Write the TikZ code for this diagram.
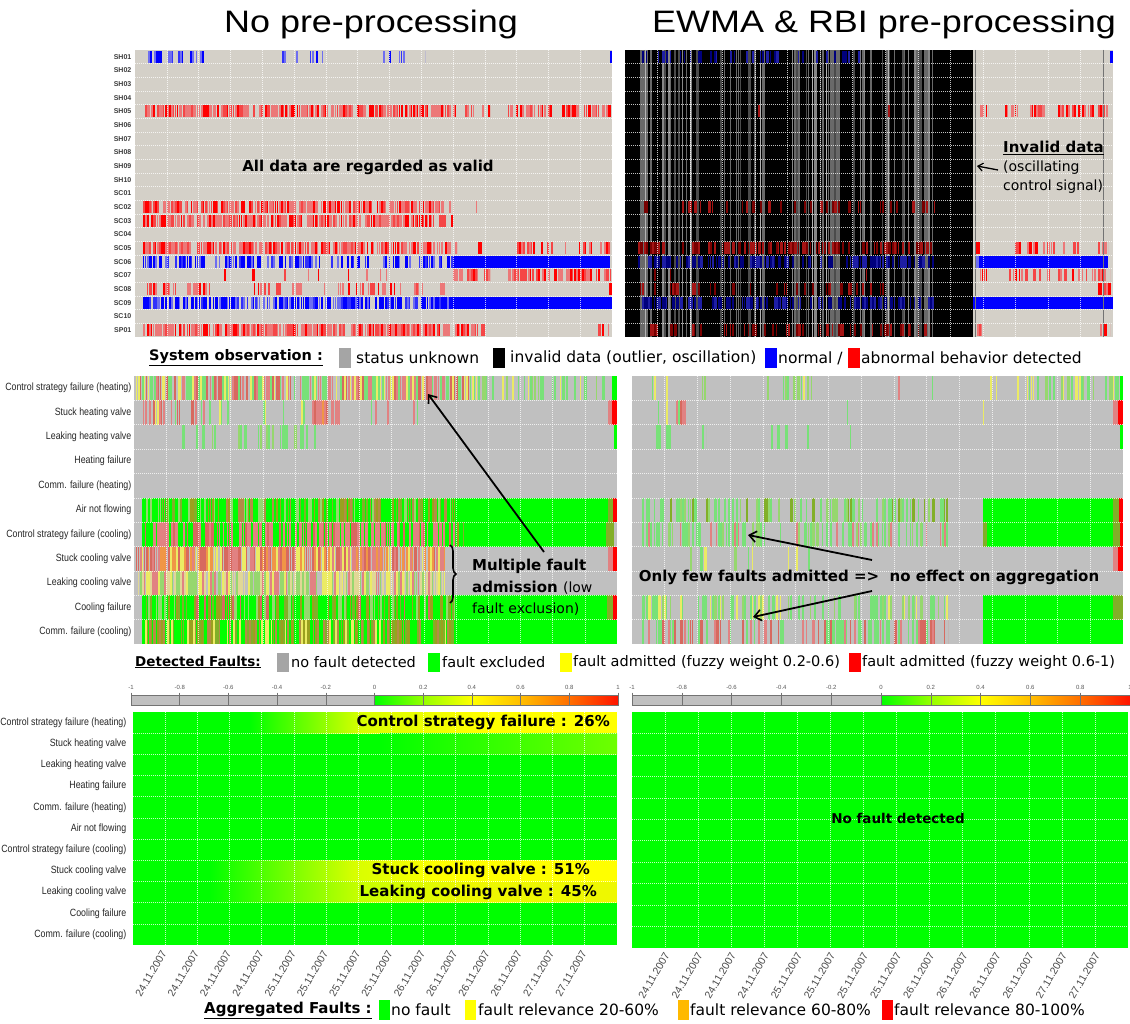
\documentclass[tikz,border=0pt]{standalone}
\usepackage{fontspec}
\setmainfont{Liberation Sans}
\newfontfamily\dv{DejaVu Sans}
\newfontfamily\narrowf[FakeStretch=0.84]{Liberation Sans}
\usetikzlibrary{arrows.meta,decorations.pathreplacing}
\definecolor{beige}{RGB}{212,208,200}
\definecolor{midgray}{RGB}{192,192,192}
\definecolor{rS}{RGB}{255,0,0}
\definecolor{rL}{RGB}{236,120,120}
\definecolor{rM}{RGB}{245,70,70}
\definecolor{bS}{RGB}{0,0,255}
\definecolor{bL}{RGB}{110,110,240}
\definecolor{bM}{RGB}{50,50,250}
\definecolor{dR}{RGB}{120,0,0}
\definecolor{dR2}{RGB}{165,20,20}
\definecolor{dB}{RGB}{0,0,125}
\definecolor{dB2}{RGB}{30,30,165}
\definecolor{gA}{RGB}{105,105,105}
\definecolor{gB}{RGB}{135,135,135}
\definecolor{gC}{RGB}{75,75,75}
\definecolor{gG}{RGB}{0,255,0}
\definecolor{lg}{RGB}{120,225,120}
\definecolor{lgb}{RGB}{150,215,110}
\definecolor{ol}{RGB}{130,175,40}
\definecolor{olb}{RGB}{155,160,30}
\definecolor{br}{RGB}{180,140,70}
\definecolor{pk}{RGB}{225,130,130}
\definecolor{pkb}{RGB}{215,105,95}
\definecolor{yl}{RGB}{235,235,100}
\definecolor{ylb}{RGB}{225,215,150}
\definecolor{orr}{RGB}{240,150,70}
\definecolor{aggyel}{RGB}{255,255,0}
\definecolor{aggor}{RGB}{255,185,0}
\definecolor{ygA}{RGB}{215,255,0}
\definecolor{ygB}{RGB}{200,255,0}
\definecolor{ygC}{RGB}{110,255,0}
\definecolor{ygD}{RGB}{238,248,0}
\definecolor{cbgray}{RGB}{192,192,192}
\definecolor{cbA}{RGB}{150,255,0}
\definecolor{cbB}{RGB}{255,190,0}
\definecolor{cbC}{RGB}{255,110,0}
\definecolor{cbD}{RGB}{255,20,0}
\definecolor{lsqgray}{RGB}{165,165,165}
\definecolor{labgray}{RGB}{60,60,60}
\newcommand\fsz[1]{\fontsize{#1}{#1}\selectfont}
\newcommand\stripes[6]{%
  \pgfmathsetmacro\stY{#3}%
  \pgfmathsetmacro\stH{#4}%
  \pgfmathtruncatemacro\stN{floor((#2-#1)/2)}%
  \foreach \k in {0,...,\stN}{%
    \pgfmathsetmacro\stR{rnd}%
    \ifdim\stR pt<#5pt\relax
      \pgfmathsetmacro\stX{#1+2*\k}%
      \pgfmathtruncatemacro\stC{floor(3.99*rnd)}%
      \pgfmathsetmacro\stCol{{#6}[\stC]}%
      \pgfmathsetmacro\stW{min(1+1.8*rnd,#2-\stX)}%
      \fill[\stCol] (\stX,\stY) rectangle ++(\stW,\stH);%
    \fi
  }%
}
\newcommand\blk[5]{\fill[#5] (#1,#3) rectangle (#2,#3+#4);}
\newcommand\TL[5]{\stripes{#1}{#2}{50+13.667*#3+0.8}{12}{#4}{#5}}
\newcommand\TB[4]{\blk{#1}{#2}{50+13.667*#3+0.8}{12}{#4}}
\newcommand\ML[5]{\stripes{#1}{#2}{376+24.36*#3}{24.36}{#4}{#5}}
\newcommand\MB[4]{\blk{#1}{#2}{376+24.36*#3}{24.36}{#4}}
\newcommand\grid[5]{%
  \pgfmathsetmacro\gdx{(#2-#1)/15}%
  \pgfmathsetmacro\gdy{(#4-#3)/(#5+1)}%
  \foreach \k in {1,...,14}{\draw[gridl] ({#1+\k*\gdx},#3) -- ({#1+\k*\gdx},#4);}%
  \foreach \k in {1,...,#5}{\draw[gridl] (#1,{#3+\k*\gdy}) -- (#2,{#3+\k*\gdy});}%
}
\newcommand\cbar[3]{%
  \pgfmathsetmacro\cbd{(#2-#1)/10}%
  \fill[cbgray] (#1,695) rectangle ({#1+5*\cbd},705);
  \shade[left color=gG, right color=cbA] ({#1+5*\cbd},695) rectangle ({#1+6*\cbd},705);
  \shade[left color=cbA, right color=aggyel] ({#1+6*\cbd},695) rectangle ({#1+7*\cbd},705);
  \shade[left color=aggyel, right color=cbB] ({#1+7*\cbd},695) rectangle ({#1+8*\cbd},705);
  \shade[left color=cbB, right color=cbC] ({#1+8*\cbd},695) rectangle ({#1+9*\cbd},705);
  \shade[left color=cbC, right color=cbD] ({#1+9*\cbd},695) rectangle (#2,705);
  \foreach \k in {1,...,9}{\draw[cbline] ({#1+\k*\cbd},695) -- ({#1+\k*\cbd},705);}
  \draw[cbline] (#1,695) rectangle (#2,705);
  \foreach \k/\t in {0/-1,1/-0.8,2/-0.6,3/-0.4,4/-0.2,5/0,6/0.2,7/0.4,8/0.6,9/0.8,10/1}{%
    \draw[cbline] ({#1+\k*\cbd},692.5) -- ({#1+\k*\cbd},695);
    \node[ticklab] (#3\k) at ({#1+\k*\cbd},687.5) {\t};}
}
\begin{document}
\begin{tikzpicture}[x=1pt,y=-1pt,
  gridl/.style={draw=white, line width=0.6pt, dash pattern=on 1pt off 1pt, opacity=0.75},
  cbline/.style={draw=black!55, line width=0.5pt},
  ticklab/.style={font=\fsz{6}, text=black!65, inner sep=0pt},
  toplab/.style={font=\fsz{7}\bfseries, text=labgray, anchor=east, inner sep=0.5pt},
  rowlab/.style={font=\narrowf\fsz{10.5}, text=black!85, anchor=east, inner sep=0.5pt},
  datel/.style={font=\fsz{10.5}, text=black!70, rotate=60, anchor=east, inner sep=0pt},
  leg/.style={font=\dv\fsz{15.5}, anchor=west, inner sep=1pt},
  legb/.style={font=\dv\bfseries\fsz{15}, anchor=west, inner sep=1pt},
  ann/.style={font=\dv\bfseries\fsz{15}, inner sep=1pt},
  lsq/.style={rectangle, draw=none, inner sep=0pt, minimum width=12pt, minimum height=19pt},
  arr/.style={-{Straight Barb[length=7pt,width=11pt,line width=1.6pt]}, line width=1.8pt, black},
  title/.style={font=\fsz{31}, inner sep=0pt}]
\pgfmathsetseed{4242}
\useasboundingbox (0,0) rectangle (1130,1024);
\fill[white] (0,0) rectangle (1130,1024);

% ---------------- titles
\node[title] (t1) at (371,24) {\scalebox{1.16}[1]{No pre-processing}};
\node[title] (t2) at (884,24) {\scalebox{1.16}[1]{EWMA \& RBI pre-processing}};

% ---------------- top-left panel
\fill[beige] (135,50) rectangle (612,337);
\def\red{"rS","rL","rL","rM"}
\def\redl{"rL","rL","rS","rM"}
\def\blu{"bS","bL","bM","bS"}
\TL{148}{208}{0}{0.45}{"bL","bS","bL","bM"}
\TL{272}{342}{0}{0.3}{"bL","bS","bL","bM"}
\TL{377}{425}{0}{0.2}{"bL","bS","bL","bM"}
\TB{610}{612}{0}{bS}
\TL{143}{476}{4}{0.85}{\red}
\TL{482}{490}{4}{0.8}{\red}
\TL{508}{552}{4}{0.7}{\redl}
\TL{560}{611}{4}{0.75}{\red}
\TL{143}{453}{11}{0.85}{\red}
\TB{476}{477}{11}{rL}
\TL{143}{453}{12}{0.85}{\redl}
\TL{143}{457}{14}{0.85}{\red}
\TB{478}{482}{14}{rS}
\TL{515}{600}{14}{0.25}{\redl}
\TL{600}{610}{14}{0.7}{\red}
\TL{143}{453}{15}{0.6}{\blu}
\TB{453}{610}{15}{bS}
\TL{210}{453}{16}{0.08}{\redl}
\TL{453}{478}{16}{0.8}{\red}
\TL{482}{490}{16}{0.7}{\red}
\TL{508}{611}{16}{0.6}{\redl}
\TL{145}{210}{17}{0.45}{\redl}
\TL{250}{445}{17}{0.3}{\redl}
\TB{609}{612}{17}{rS}
\TL{143}{453}{18}{0.85}{\blu}
\TB{453}{612}{18}{bS}
\TL{143}{485}{20}{0.85}{\red}
\TL{520}{598}{20}{0.06}{\redl}
\TL{598}{610}{20}{0.5}{\red}
\grid{135}{612}{50}{337}{20}
\foreach \lab [count=\i from 0] in {SH01,SH02,SH03,SH04,SH05,SH06,SH07,SH08,SH09,SH10,SC01,SC02,SC03,SC04,SC05,SC06,SC07,SC08,SC09,SC10,SP01}
  {\node[toplab] (tl\i) at (132,{50+13.667*(\i+0.5)}) {\lab};}
\node[ann] (valid) at (368,167) {All data are regarded as valid};

% ---------------- top-right panel
\fill[beige] (625,50) rectangle (1113,337);
\fill[black] (625,50) rectangle (973,337);
\stripes{640}{933}{50}{287}{0.5}{"gA","gB","gC","gA"}
\fill[black] (700,50) rectangle (717,337);
\fill[black] (765,50) rectangle (787,337);
\fill[black] (840,50) rectangle (853,337);
\foreach \lx in {645,690,760,812,826,888}{\draw[black!30, line width=0.7pt] (\lx,50) -- (\lx,337);}
\def\dred{"dR","dR2","dR","dR2"}
\def\dblu{"dB","dB2","dB","dB2"}
\TL{640}{860}{0}{0.3}{\dblu}
\TB{758}{760}{4}{dR2}
\TB{888}{890}{4}{dR2}
\TL{640}{935}{11}{0.2}{\dred}
\TL{638}{935}{14}{0.55}{\dred}
\TL{638}{935}{15}{0.6}{\dblu}
\TL{640}{900}{16}{0.04}{\dred}
\TL{640}{890}{17}{0.25}{\dred}
\TL{638}{935}{18}{0.6}{\dblu}
\TL{640}{930}{20}{0.4}{\dred}
\TB{1110}{1113}{0}{bS}
\TL{980}{988}{4}{0.8}{\red}
\TL{1005}{1022}{4}{0.7}{\redl}
\TL{1030}{1045}{4}{0.6}{\redl}
\TL{1058}{1110}{4}{0.7}{\red}
\TB{975}{980}{14}{rS}
\TL{1015}{1080}{14}{0.4}{\redl}
\TL{1098}{1108}{14}{0.6}{\redl}
\TB{975}{979}{15}{bL}
\TB{979}{1108}{15}{bS}
\TL{980}{988}{16}{0.8}{\red}
\TL{1005}{1050}{16}{0.6}{\redl}
\TL{1058}{1110}{16}{0.6}{\red}
\TL{1098}{1108}{17}{0.5}{\redl}
\TB{1108}{1111}{17}{rS}
\TB{973}{1113}{18}{bS}
\TL{975}{983}{20}{0.7}{\red}
\TL{1025}{1032}{20}{0.2}{\redl}
\TL{1098}{1110}{20}{0.6}{\redl}
\draw[black!55, line width=0.6pt] (975,50) -- (975,337);
\draw[black!55, line width=0.6pt] (1103,50) -- (1103,337);
\grid{625}{1113}{50}{337}{20}
\node[font=\dv\bfseries\fsz{15}, anchor=west, inner sep=0pt] (inv) at (1003,148) {\underline{Invalid data}};
\node[font=\dv\fsz{14}, anchor=west, inner sep=0pt] (osc) at (1003,168) {(oscillating};
\node[font=\dv\fsz{14}, anchor=west, inner sep=0pt] (ctl) at (1003,187) {control signal)};
\coordinate (invtip) at (977,166);
\draw[-{Straight Barb[length=5pt,width=8pt,line width=1.2pt]}, line width=1.3pt] ([xshift=-5pt,yshift=-2pt]osc.west) -- (invtip);

% ---------------- legend 1
\node[legb, font=\dv\bfseries\fsz{14.5}] (so) at (148,358) {\underline{System observation :}};
\node[lsq, fill=lsqgray] (lsq1) at (345,358) {};
\node[leg] (su) at (355,358) {status unknown};
\node[lsq, fill=black] (lsq2) at (499,358) {};
\node[leg] (inv2) at (509,358) {invalid data (outlier, oscillation)};
\node[lsq, fill=bS] (lsq3) at (771,358) {};
\node[leg] (nrm) at (777,358) {normal /};
\node[lsq, fill=rS] (lsq4) at (854,358) {};
\node[leg] (abn) at (860,358) {abnormal behavior detected};

% ---------------- middle-left panel
\fill[midgray] (134,376) rectangle (617,644);
\ML{136}{480}{0}{0.92}{"pk","yl","lg","pkb"}
\ML{480}{612}{0}{0.45}{"lg","lgb","yl","lg"}
\MB{612}{617}{0}{gG}
\ML{143}{205}{1}{0.7}{"pk","pkb","yl","lg"}
\ML{205}{440}{1}{0.15}{"pk","lg","yl","lg"}
\ML{312}{328}{1}{0.9}{"pk","pkb","pk","orr"}
\MB{608}{612}{1}{pk}
\MB{612}{617}{1}{rS}
\ML{148}{320}{2}{0.2}{"lg","lgb","lg","lg"}
\MB{614}{617}{2}{gG}
\MB{142}{612}{5}{gG}
\ML{142}{455}{5}{0.6}{"ol","olb","br","lgb"}
\MB{608}{613}{5}{ol}
\MB{613}{617}{5}{rS}
\MB{142}{606}{6}{gG}
\ML{145}{455}{6}{0.9}{"pk","pk","pkb","gG"}
\ML{455}{470}{6}{0.3}{"ol","pk","olb","pk"}
\MB{606}{614}{6}{ol}
\ML{136}{445}{7}{0.95}{"pk","orr","yl","pkb"}
\MB{608}{613}{7}{pk}
\MB{613}{617}{7}{rS}
\ML{136}{445}{8}{0.95}{"ylb","pk","yl","lgb"}
\MB{142}{612}{9}{gG}
\ML{142}{455}{9}{0.6}{"ol","olb","pkb","lgb"}
\MB{607}{613}{9}{ol}
\MB{613}{617}{9}{rS}
\MB{142}{617}{10}{gG}
\ML{145}{455}{10}{0.7}{"ol","olb","br","yl"}
\grid{134}{617}{376}{644}{10}
\foreach \lab [count=\i from 0] in {Control strategy failure (heating),Stuck heating valve,Leaking heating valve,Heating failure,Comm. failure (heating),Air not flowing,Control strategy failure (cooling),Stuck cooling valve,Leaking cooling valve,Cooling failure,Comm. failure (cooling)}
  {\node[rowlab] (ml\i) at (132,{376+24.36*(\i+0.5)}) {\lab};}
\draw[decorate, decoration={brace, amplitude=6pt}, line width=1.6pt] (450,545) -- (450,603);
\node[ann, anchor=west] (mf1) at (471,566) {Multiple fault};
\node[ann, anchor=west] (mf2) at (471,588) {admission {\mdseries\fsz{14}(low}};
\node[font=\dv\fsz{14}, anchor=west, inner sep=1pt] (mf3) at (471,609) {fault exclusion)};
\coordinate (mfs) at (544,552);
\coordinate (mftip) at (428,394);
\draw[arr] (mfs) -- (mftip);

% ---------------- middle-right panel
\fill[midgray] (632,376) rectangle (1123,644);
\ML{652}{680}{0}{0.4}{"lg","lg","lgb","yl"}
\ML{698}{706}{0}{0.4}{"lg","lg","lgb","lg"}
\ML{765}{812}{0}{0.2}{"lg","yl","lg","lgb"}
\MB{898}{899.5}{0}{pk}
\MB{932}{933}{0}{lg}
\ML{990}{998}{0}{0.5}{"yl","lg","lg","yl"}
\ML{1015}{1120}{0}{0.45}{"lg","lgb","yl","lg"}
\MB{1120}{1123}{0}{gG}
\ML{652}{686}{1}{0.35}{"pk","yl","lg","pkb"}
\MB{847}{848}{1}{lg}
\MB{983}{984}{1}{yl}
\MB{1113}{1118}{1}{pk}
\MB{1118}{1123}{1}{rS}
\ML{652}{680}{2}{0.35}{"lg","lgb","lg","lg"}
\ML{698}{706}{2}{0.3}{"lg","lgb","lg","lg"}
\ML{765}{812}{2}{0.12}{"lg","lgb","lg","lg"}
\MB{850}{851}{2}{lg}
\MB{1120}{1123}{2}{gG}
\ML{642}{948}{5}{0.5}{"lg","lg","lgb","ol"}
\MB{983}{1113}{5}{gG}
\MB{1113}{1119}{5}{ol}
\MB{1119}{1123}{5}{rS}
\ML{642}{948}{6}{0.5}{"lg","lgb","pk","lg"}
\MB{983}{987}{6}{ol}
\MB{987}{1113}{6}{gG}
\MB{1113}{1120}{6}{ol}
\MB{1120}{1123}{6}{rS}
\ML{652}{810}{7}{0.15}{"lg","yl","lgb","lg"}
\MB{1113}{1118}{7}{pk}
\MB{1118}{1123}{7}{rS}
\ML{642}{948}{9}{0.5}{"lg","lg","lgb","yl"}
\MB{983}{1113}{9}{gG}
\MB{1113}{1123}{9}{ol}
\ML{642}{948}{10}{0.5}{"lg","pk","lg","pkb"}
\MB{983}{1123}{10}{gG}
\grid{632}{1123}{376}{644}{10}
\node[ann] (ofa) at (869,577) {Only few faults admitted =>\ \ no effect on aggregation};
\coordinate (ofs1) at (872,560);
\coordinate (ofe1) at (748,535);
\coordinate (ofs2) at (872,591);
\coordinate (ofe2) at (753,617);
\draw[arr] (ofs1) -- (ofe1);
\draw[arr] (ofs2) -- (ofe2);

% ---------------- legend 2
\node[legb, font=\dv\bfseries\fsz{13.5}] (df) at (134,662) {\underline{Detected Faults:}};
\node[lsq, fill=lsqgray] (lsq5) at (283,662) {};
\node[leg, font=\dv\fsz{14.5}] (nfd) at (290,662) {no fault detected};
\node[lsq, fill=gG] (lsq6) at (434,662) {};
\node[leg, font=\dv\fsz{14.5}] (fex) at (441,662) {fault excluded};
\node[lsq, fill=aggyel] (lsq7) at (566,662) {};
\node[leg, font=\dv\fsz{14.5}] (fa1) at (572,662) {fault admitted (fuzzy weight 0.2-0.6)};
\node[lsq, fill=rS] (lsq8) at (855,662) {};
\node[leg, font=\dv\fsz{14.5}] (fa2) at (861,662) {fault admitted (fuzzy weight 0.6-1)};

% ---------------- colour bars
\cbar{131}{618}{cbl}
\cbar{632}{1130}{cbr}

% ---------------- bottom-left panel
\fill[gG] (132.6,712) rectangle (617,945);
\shade[left color=gG, right color=ygA] (250,712) rectangle (360,733.2);
\shade[left color=ygA, right color=aggyel] (360,712) rectangle (480,733.2);
\fill[aggyel] (480,712) rectangle (617,733.2);
\shade[left color=gG, right color=ygC] (380,733.2) rectangle (617,754.4);
\shade[left color=gG, right color=ygA] (209,860.4) rectangle (354,881.6);
\shade[left color=ygA, right color=aggyel] (354,860.4) rectangle (442,881.6);
\fill[aggyel] (442,860.4) rectangle (617,881.6);
\shade[left color=gG, right color=ygB] (209,881.6) rectangle (360,902.8);
\shade[left color=ygB, right color=ygD] (360,881.6) rectangle (470,902.8);
\fill[ygD] (470,881.6) rectangle (617,902.8);
\grid{132.6}{617}{712}{945}{10}
\foreach \lab [count=\i from 0] in {Control strategy failure (heating),Stuck heating valve,Leaking heating valve,Heating failure,Comm. failure (heating),Air not flowing,Control strategy failure (cooling),Stuck cooling valve,Leaking cooling valve,Cooling failure,Comm. failure (cooling)}
  {\node[rowlab] (bl\i) at (127,{712+21.2*(\i+0.5)}) {\lab};}
\node[ann, anchor=east] (csf) at (611,722.6) {Control strategy failure : 26\%};
\node[ann, anchor=east] (scv) at (591,870.9) {Stuck cooling valve : 51\%};
\node[ann, anchor=east] (lcv) at (598,892.1) {Leaking cooling valve : 45\%};

% ---------------- bottom-right panel
\fill[gG] (632,712) rectangle (1128,948);
\grid{632}{1128}{712}{948}{10}
\node[ann, font=\dv\bfseries\fsz{13.5}] (nofd) at (898,818) {No fault detected};

% ---------------- date labels
\foreach \d [count=\i from 0] in {24.11.2007,24.11.2007,24.11.2007,24.11.2007,25.11.2007,25.11.2007,25.11.2007,25.11.2007,26.11.2007,26.11.2007,26.11.2007,26.11.2007,27.11.2007,27.11.2007}
  {\node[datel] (dl\i) at ({164+32.3*\i},951) {\d};
   \node[datel] (dr\i) at ({667+33.1*\i},953) {\d};}

% ---------------- legend 3
\node[legb] (agf) at (203,1010) {\underline{Aggregated Faults :}};
\node[lsq, fill=gG, minimum width=11pt, minimum height=20pt] (lsq9) at (384.5,1010) {};
\node[leg] (nf) at (390,1010) {no fault};
\node[lsq, fill=aggyel, minimum width=11pt, minimum height=20pt] (lsq10) at (470.5,1010) {};
\node[leg] (fr1) at (477,1010) {fault relevance 20-60\%};
\node[lsq, fill=aggor, minimum width=11pt, minimum height=20pt] (lsq11) at (683.5,1010) {};
\node[leg] (fr2) at (689,1010) {fault relevance 60-80\%};
\node[lsq, fill=rS, minimum width=11pt, minimum height=20pt] (lsq12) at (887.5,1010) {};
\node[leg] (fr3) at (893,1010) {fault relevance 80-100\%};
\end{tikzpicture}
\end{document}
